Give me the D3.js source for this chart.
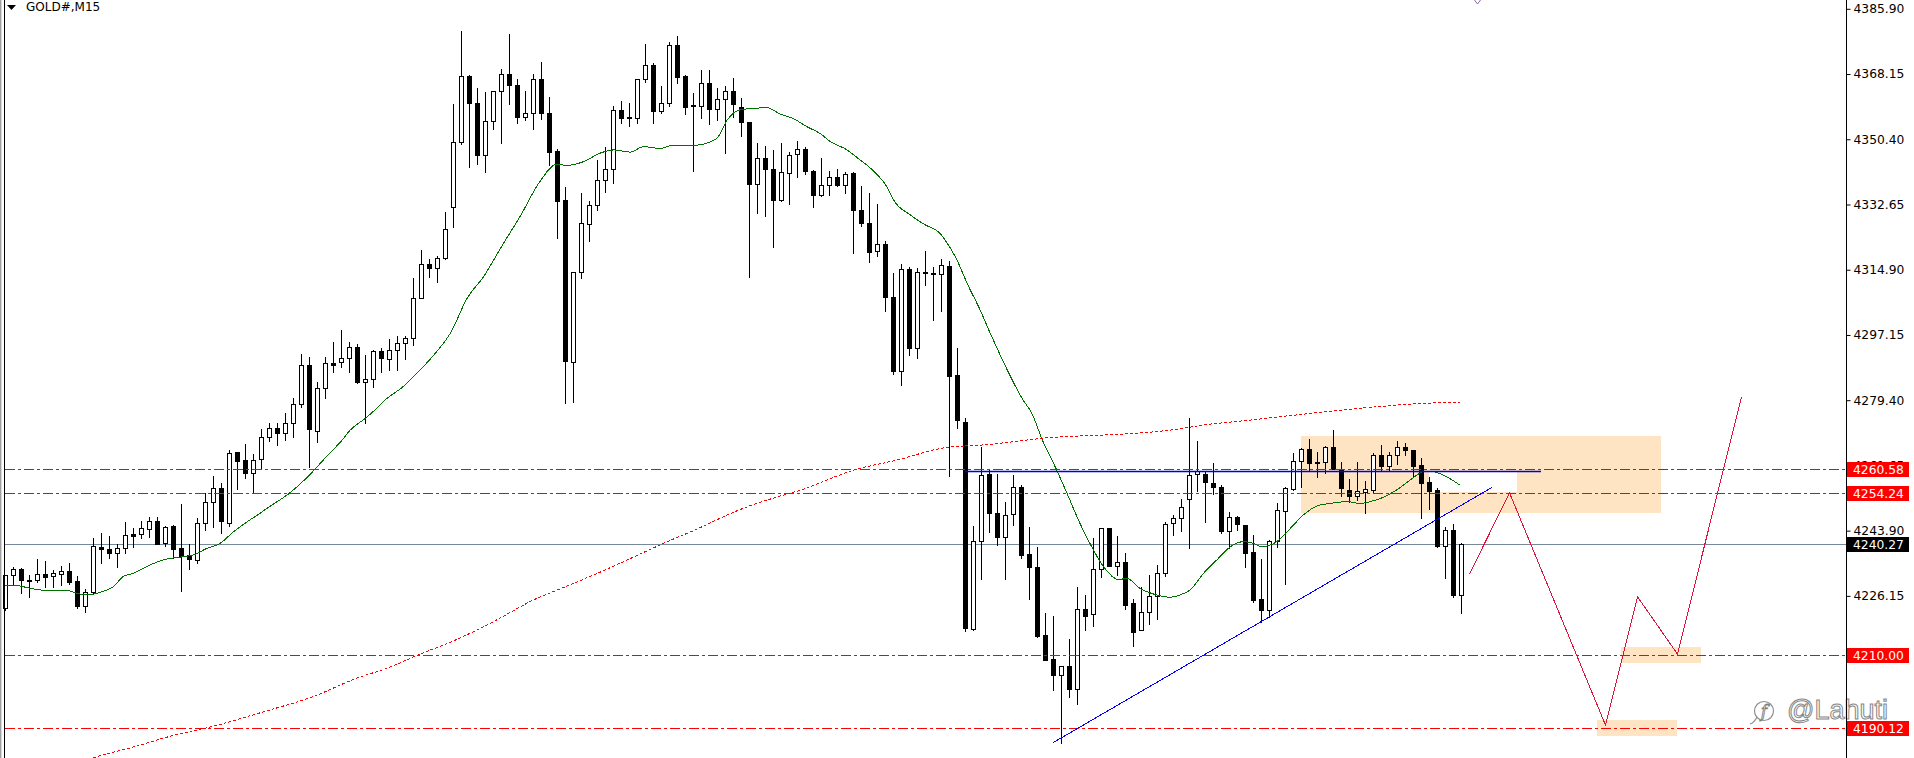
<!DOCTYPE html>
<html><head><meta charset="utf-8">
<script src="https://cdn.jsdelivr.net/npm/d3@7"></script>
<style>html,body{margin:0;padding:0;background:#fff;overflow:hidden}</style>
</head><body><svg id="c" width="1914" height="758"></svg>
<script>
// ---------------- DATA ----------------
const symbolTitle = "GOLD#,M15";
const opens = [4222.8,4231.7,4233.6,4230.6,4230.6,4232.0,4231.5,4232.2,4232.8,4230.2,
4223.4,4227.3,4239.4,4238.9,4237.7,4239.1,4242.9,4242.9,4244.4,4246.5,
4240.6,4245.1,4239.2,4237.2,4235.9,4245.9,4251.6,4255.4,4245.9,4265.2,
4263.0,4259.5,4263.3,4269.3,4271.7,4270.4,4273.3,4278.3,4289.1,4271.1,
4282.6,4289.5,4289.9,4290.8,4293.8,4284.4,4285.3,4292.8,4290.5,4293.0,
4295.0,4296.2,4307.1,4316.4,4315.5,4318.0,4331.9,4349.6,4367.5,4360.4,
4346.2,4355.3,4363.4,4368.1,4365.1,4356.5,4357.5,4366.7,4357.5,4347.2,
4333.9,4289.9,4314.2,4327.3,4332.4,4339.2,4342.2,4358.4,4356.5,4356.3,
4366.7,4370.5,4358.2,4360.4,4376.0,4367.6,4359.7,4359.5,4365.6,4358.5,
4361.3,4363.6,4359.3,4355.0,4338.1,4345.2,4342.2,4333.9,4341.3,4346.5,
4347.7,4341.9,4335.2,4338.0,4340.2,4338.0,4341.1,4331.2,4327.7,4320.1,
4321.8,4307.5,4287.3,4315.1,4293.5,4314.1,4314.0,4313.7,4316.0,4286.3,
4273.4,4217.2,4241.0,4259.3,4248.6,4242.3,4248.3,4255.9,4237.5,4234.1,
4215.5,4208.9,4204.6,4207.1,4200.9,4222.6,4221.3,4233.6,4244.5,4234.4,
4235.5,4224.1,4216.9,4221.7,4226.2,4232.3,4245.9,4247.3,4252.4,4259.3,
4259.2,4256.8,4255.7,4243.9,4247.5,4245.4,4238.0,4225.2,4222.3,4241.0,
4249.3,4255.1,4262.9,4266.1,4262.5,4262.5,4266.6,4260.6,4255.0,4253.4,
4254.5,4255.0,4264.5,4261.6,4264.5,4266.6,4265.8,4261.8,4257.2,4255.0,
4239.8,4244.1,4226.4];
const highs = [4231.9,4234.1,4233.7,4231.8,4236.2,4235.6,4233.3,4234.2,4235.1,4231.6,
4227.9,4241.8,4243.2,4242.4,4240.2,4246.2,4244.7,4246.5,4247.6,4247.6,
4245.1,4245.4,4251.2,4240.4,4247.3,4254.1,4258.8,4256.9,4265.8,4265.4,
4267.5,4264.8,4271.5,4273.3,4273.1,4275.8,4279.9,4291.9,4291.2,4284.4,
4291.1,4295.1,4298.5,4295.2,4294.7,4291.7,4293.1,4293.5,4296.0,4297.0,
4297.0,4312.7,4320.3,4317.8,4318.6,4330.6,4359.9,4379.9,4367.8,4364.3,
4363.3,4363.6,4369.4,4379.0,4366.7,4363.5,4368.2,4371.4,4361.9,4347.7,
4337.3,4314.4,4335.8,4333.6,4344.8,4348.2,4359.4,4360.8,4360.2,4366.9,
4376.3,4371.1,4364.9,4376.9,4378.5,4367.8,4362.9,4369.2,4369.2,4364.3,
4364.9,4367.0,4361.5,4355.2,4349.3,4348.7,4347.5,4349.5,4347.0,4349.8,
4348.2,4342.0,4345.2,4341.9,4342.2,4341.4,4341.6,4337.6,4335.9,4332.7,
4322.8,4314.1,4316.5,4315.7,4315.4,4320.1,4315.7,4317.7,4317.2,4293.5,
4274.6,4245.2,4266.6,4260.4,4259.3,4251.8,4259.0,4256.3,4245.0,4239.5,
4221.4,4220.7,4207.1,4214.4,4228.5,4226.4,4241.8,4244.5,4244.5,4242.4,
4237.9,4225.2,4228.5,4231.8,4234.6,4246.3,4248.2,4252.5,4274.5,4268.3,
4260.1,4262.2,4256.3,4249.1,4247.9,4245.5,4242.7,4236.2,4241.4,4251.3,
4255.7,4264.9,4266.3,4268.8,4265.4,4267.0,4271.3,4262.5,4257.9,4262.7,
4257.5,4264.9,4267.2,4265.2,4268.3,4267.8,4265.9,4263.6,4258.6,4255.4,
4245.0,4245.7,4240.5];
const lows = [4222.3,4229.1,4226.8,4225.9,4230.0,4228.7,4228.5,4229.1,4229.4,4222.8,
4221.9,4227.0,4235.0,4236.4,4234.1,4237.9,4239.5,4242.0,4242.3,4240.2,
4239.7,4236.4,4227.6,4233.4,4235.0,4244.1,4245.0,4243.3,4245.2,4255.2,
4258.3,4254.3,4260.9,4268.3,4267.2,4268.7,4269.5,4277.6,4261.3,4268.0,
4279.9,4287.2,4288.5,4287.2,4284.0,4273.1,4282.9,4287.2,4287.6,4287.6,
4290.6,4294.4,4307.1,4313.0,4311.6,4317.7,4326.6,4349.0,4342.8,4343.6,
4341.4,4353.1,4349.5,4359.9,4354.9,4355.6,4353.3,4356.0,4343.4,4323.6,
4278.5,4279.0,4312.6,4322.8,4331.2,4336.1,4338.4,4354.7,4354.0,4354.7,
4366.0,4354.7,4357.6,4359.5,4365.6,4357.4,4341.9,4356.3,4354.5,4355.6,
4346.6,4356.5,4351.4,4312.8,4330.2,4329.6,4321.1,4333.6,4332.9,4340.1,
4340.9,4332.1,4335.0,4335.2,4337.8,4335.9,4319.4,4326.8,4316.9,4318.7,
4303.6,4286.5,4283.5,4291.8,4291.0,4310.7,4301.1,4303.8,4258.8,4271.7,
4216.6,4216.9,4230.7,4243.6,4240.0,4230.7,4245.4,4236.4,4225.3,4215.0,
4208.7,4200.5,4186.2,4198.7,4196.6,4216.9,4217.9,4231.4,4234.4,4231.8,
4222.6,4212.5,4216.9,4218.5,4219.9,4231.6,4242.7,4243.9,4239.1,4254.8,
4246.3,4253.8,4243.2,4239.1,4244.1,4234.1,4224.4,4219.1,4220.5,4239.4,
4229.3,4255.0,4255.9,4260.2,4258.6,4259.7,4260.7,4253.2,4251.8,4252.2,
4248.6,4254.5,4260.2,4260.4,4262.0,4264.5,4258.8,4247.3,4249.8,4239.5,
4231.1,4225.9,4221.4];
const closes = [4231.7,4233.6,4230.5,4230.3,4232.0,4231.4,4232.3,4232.8,4230.0,4223.3,
4227.3,4239.6,4238.8,4237.7,4239.1,4242.6,4242.5,4244.5,4246.5,4240.4,
4244.8,4239.0,4237.1,4236.1,4245.9,4251.6,4255.4,4246.4,4265.1,4262.9,
4259.5,4263.0,4269.3,4271.7,4270.4,4273.3,4278.3,4289.1,4271.5,4282.6,
4289.4,4289.1,4290.8,4293.8,4284.4,4285.3,4292.8,4290.8,4293.0,4295.0,
4296.2,4307.1,4316.4,4315.5,4318.0,4325.9,4349.6,4367.5,4360.4,4346.2,
4355.3,4363.4,4368.1,4365.3,4356.5,4357.5,4366.7,4357.6,4347.0,4333.7,
4290.2,4314.2,4327.5,4332.4,4339.2,4342.2,4358.4,4356.3,4356.3,4366.7,
4370.5,4358.2,4360.2,4376.0,4367.4,4359.3,4359.4,4365.6,4358.5,4361.3,
4363.6,4359.9,4355.0,4338.1,4345.2,4342.2,4333.9,4341.4,4346.2,4347.7,
4341.7,4335.2,4338.0,4340.1,4337.9,4341.0,4331.2,4327.6,4319.7,4321.8,
4307.5,4287.3,4315.1,4293.5,4314.3,4314.4,4313.8,4316.2,4285.9,4273.9,
4217.3,4241.0,4259.0,4248.8,4242.3,4248.1,4255.7,4237.3,4234.1,4215.1,
4208.7,4204.6,4207.1,4200.9,4222.5,4220.8,4233.6,4244.5,4234.4,4235.5,
4223.8,4216.4,4221.9,4226.2,4232.3,4245.6,4247.3,4250.4,4259.1,4260.0,
4257.1,4255.7,4243.9,4247.5,4245.6,4237.9,4225.0,4222.3,4241.0,4249.5,
4255.4,4262.9,4266.1,4262.2,4262.2,4266.6,4260.7,4255.4,4253.4,4254.7,
4255.1,4264.5,4261.6,4264.5,4266.6,4265.8,4261.6,4257.0,4254.8,4239.7,
4244.1,4226.4,4240.27];

// moving averages: [bar index, price]
const greenMA = [[0,4228.9],[1,4229.1],[3.1,4228.2],[4.7,4227.7],[7.7,4227.6],[9,4226.8],[10.2,4226.4],[11.8,4227.1],[13.5,4228.7],[14.7,4231.4],[16,4232.3],[18.1,4234.6],[20.2,4236.2],[22.2,4236.8],[23.5,4237.3],[25.2,4239.1],[26.8,4240.4],[28.5,4243.6],[30.2,4246.3],[31.8,4248.6],[32.7,4250.0],[35.5,4254.1],[37.8,4258.6],[40.1,4264.0],[42.1,4268.6],[43.1,4271.3],[45,4274.5],[46.4,4277.2],[47.2,4279.0],[49.7,4283.1],[51.4,4286.7],[53.9,4292.6],[55.6,4297.6],[57.7,4307.1],[59.75,4313.0],[62.25,4322.1],[64.3,4329.3],[66.8,4338.9],[68.9,4343.6],[70.2,4343.3],[72.25,4344.3],[74.3,4346.6],[76,4347.5],[78.1,4346.9],[79.75,4348.4],[81.8,4347.9],[83.5,4348.8],[86,4348.7],[88.1,4349.7],[89.1,4351.1],[90.2,4355.6],[91.8,4358.4],[93.5,4358.8],[95.2,4359.0],[96.8,4357.3],[98.5,4356.0],[100.2,4353.8],[101.8,4352.0],[103.1,4349.8],[105.2,4347.5],[106.4,4345.5],[108.9,4340.9],[110.2,4337.4],[111,4333.9],[113.1,4329.8],[114.8,4327.3],[116.8,4324.8],[118.1,4320.8],[118.9,4317.7],[120.2,4311.2],[121.8,4304.1],[123.1,4297.6],[127.2,4279.45],[128.3,4275.8],[129.6,4268.6],[131.4,4260.4],[132.7,4254.0],[134.3,4245.9],[136,4238.6],[137.25,4234.1],[139.1,4230.6],[140.2,4230.9],[141.8,4228.2],[143.3,4226.8],[145.6,4225.8],[146.8,4226.4],[148.1,4227.8],[149.75,4232.3],[151.4,4235.9],[153.1,4239.5],[154.75,4240.9],[156,4240.45],[157.05,4239.5],[158.9,4240.9],[160.6,4244.5],[162.25,4248.2],[163.9,4250.6],[165.6,4251.3],[167.7,4251.8],[169.3,4251.3],[170.6,4251.8],[172.25,4253.0],[173.9,4255.0],[175.6,4257.7],[177.25,4259.95],[178.1,4260.1],[179.75,4259.0],[181.8,4256.3]];
const redMA = [[8,4179.8],[11.1,4182.2],[15.45,4184.7],[21.2,4188.3],[25.8,4190.6],[32.7,4194.9],[38.4,4198.7],[43.6,4203.5],[48.2,4206.9],[51.6,4210.1],[56.2,4214.1],[61.4,4219.6],[65.95,4225.0],[70,4228.65],[74,4232.3],[78.6,4236.8],[82,4240.2],[86.6,4244.5],[91.2,4249.1],[96.8,4253.3],[98.9,4254.6],[106.4,4260.6],[111.4,4263.1],[117.25,4266.4],[123.1,4267.4],[124.75,4267.8],[131,4269.3],[137.25,4269.9],[141.4,4270.4],[146.4,4271.5],[149.75,4272.65],[154.75,4273.8],[163.1,4275.8],[171.4,4277.6],[176.8,4278.5],[181.8,4278.8]];

const levelPrices = [4260.58, 4254.24, 4210.00, 4190.12];
const bidPrice = 4240.27;
const tickValues = [4385.90, 4368.15, 4350.40, 4332.65, 4314.90, 4297.15, 4279.40, 4261.65, 4243.90, 4226.15];
const zones = [[162, 207, 4248.8, 4269.75], [202, 212, 4207.9, 4212.3], [199, 209, 4188.1, 4192.4]];
const zoneOverlap = [178, 189, 4254.3, 4260.0];
const blueLevel = [120, 192, 4260.1];
const trendLine = [[131.0, 4186.2], [185.9, 4255.7]];
const projection = [[183, 4232.1], [188, 4254.2], [200, 4191.0], [204, 4225.9], [209, 4210.3], [217, 4280.35]];
const watermark = "@Lahuti";

// ---------------- DRAW ----------------
const svg = d3.select('#c');
const W = 1914, H = 758, AX = 1846;
const x = d3.scaleLinear().domain([0, 182]).range([5, 1461]);
const y = d3.scaleLinear().domain([4190.12, 4385.90]).range([728.3, 8.8]);
const X = k => Math.round(x(k));
const Y = v => Math.round(y(v));

svg.append('rect').attr('width', W).attr('height', H).attr('fill', '#fff');
const defs = svg.append('defs');
defs.append('clipPath').attr('id', 'plot').append('rect').attr('x', 2).attr('y', 0).attr('width', AX - 2).attr('height', H);
const plot = svg.append('g').attr('clip-path', 'url(#plot)');

// zones
plot.selectAll('rect.zone').data(zones).join('rect').attr('class', 'zone')
  .attr('x', d => X(d[0])).attr('width', d => X(d[1]) - X(d[0]))
  .attr('y', d => Y(d[3])).attr('height', d => Y(d[2]) - Y(d[3]))
  .attr('fill', '#FFE4C4');
plot.append('rect').attr('x', X(zoneOverlap[0])).attr('width', X(zoneOverlap[1]) - X(zoneOverlap[0]))
  .attr('y', Y(zoneOverlap[3])).attr('height', Y(zoneOverlap[2]) - Y(zoneOverlap[3])).attr('fill', '#fff');

// bid line
plot.append('line').attr('x1', 5).attr('x2', AX).attr('y1', Y(bidPrice) + 0.5).attr('y2', Y(bidPrice) + 0.5)
  .attr('stroke', '#778899').attr('stroke-width', 1).attr('shape-rendering', 'crispEdges');

// candles
const idx = d3.range(opens.length);
const cg = plot.append('g').attr('shape-rendering', 'crispEdges');
cg.selectAll('rect.wick').data(idx).join('rect').attr('class', 'wick')
  .attr('x', i => X(i)).attr('width', 1)
  .attr('y', i => Y(highs[i])).attr('height', i => Y(lows[i]) - Y(highs[i]) + 1)
  .attr('fill', '#000');
cg.selectAll('rect.body').data(idx).join('rect').attr('class', 'body')
  .each(function(i) {
    const up = closes[i] >= opens[i];
    const top = Y(Math.max(opens[i], closes[i]));
    const bot = Y(Math.min(opens[i], closes[i]));
    const s = d3.select(this);
    if (up) {
      s.attr('x', X(i) - 1.5).attr('width', 4).attr('y', top + 0.5).attr('height', Math.max(0, bot - top))
       .attr('fill', '#fff').attr('stroke', '#000').attr('stroke-width', 1);
    } else {
      s.attr('x', X(i) - 2).attr('width', 5).attr('y', top).attr('height', Math.max(1, bot - top + 1))
       .attr('fill', '#000');
    }
  });

// moving averages
const maLine = d3.line().x(d => x(d[0]) + 0.5).y(d => y(d[1])).curve(d3.curveMonotoneX);
plot.append('path').attr('d', maLine(redMA)).attr('fill', 'none').attr('stroke', '#ff0000')
  .attr('stroke-width', 1).attr('stroke-dasharray', '3,2').attr('shape-rendering', 'crispEdges');
plot.append('path').attr('d', maLine(greenMA)).attr('fill', 'none').attr('stroke', '#007000')
  .attr('stroke-width', 1).attr('shape-rendering', 'crispEdges');

// horizontal levels
plot.selectAll('line.level').data(levelPrices).join('line').attr('class', 'level')
  .attr('x1', 5).attr('x2', AX).attr('y1', d => Y(d) + 0.5).attr('y2', d => Y(d) + 0.5)
  .attr('stroke', '#ff0000').attr('stroke-width', 1).attr('stroke-dasharray', '10,3,3,3')
  .attr('shape-rendering', 'crispEdges');

// blue objects
plot.append('line').attr('x1', x(blueLevel[0])).attr('x2', x(blueLevel[1]))
  .attr('y1', Y(blueLevel[2]) + 0.5).attr('y2', Y(blueLevel[2]) + 0.5)
  .attr('stroke', '#0000dd').attr('stroke-width', 1.4);
plot.append('line').attr('x1', x(trendLine[0][0])).attr('y1', y(trendLine[0][1]))
  .attr('x2', x(trendLine[1][0])).attr('y2', y(trendLine[1][1]))
  .attr('stroke', '#0000ff').attr('stroke-width', 1).attr('shape-rendering', 'crispEdges');

// projected path
const straight = d3.line().x(d => x(d[0]) + 0.5).y(d => y(d[1]));
plot.append('path').attr('d', straight(projection)).attr('fill', 'none')
  .attr('stroke', '#dc143c').attr('stroke-width', 1).attr('shape-rendering', 'crispEdges');

// small marker at top
svg.append('path').attr('d', 'M1474.5,0 L1477.5,4 L1480.5,0').attr('fill', 'none').attr('stroke', '#8a6a9a').attr('stroke-width', 1);

// left border
svg.append('line').attr('x1', 0.5).attr('x2', 0.5).attr('y1', 0).attr('y2', H).attr('stroke', '#a0a0a0');
svg.append('line').attr('x1', 1.5).attr('x2', 1.5).attr('y1', 0).attr('y2', H).attr('stroke', '#d8d8d8');
svg.append('line').attr('x1', 4.5).attr('x2', 4.5).attr('y1', 0).attr('y2', H).attr('stroke', '#000');

// watermark
const wm = svg.append('g');
wm.append('circle').attr('cx', 1764).attr('cy', 711).attr('r', 9.5).attr('fill', '#fff').attr('fill-opacity', 0.7)
  .attr('stroke', '#8f8f8f').attr('stroke-width', 1.2);
wm.append('path').attr('d', 'M1757,717 q-3,6 -7,7').attr('fill', 'none').attr('stroke', '#8f8f8f').attr('stroke-width', 1.2);
wm.append('text').attr('x', 1764).attr('y', 717).attr('text-anchor', 'middle')
  .attr('font-family', 'DejaVu Serif').attr('font-style', 'italic').attr('font-size', 17)
  .attr('fill', '#fff').attr('stroke', '#7f7f7f').attr('stroke-width', 0.9).text('f');
wm.append('text').attr('x', 1787).attr('y', 719).attr('font-family', 'Liberation Sans').attr('font-size', 27)
  .attr('fill', '#fdfdfd').attr('stroke', '#878787').attr('stroke-width', 1).text(watermark);

// price axis
svg.append('line').attr('x1', AX + 0.5).attr('x2', AX + 0.5).attr('y1', 0).attr('y2', H).attr('stroke', '#000');
const axis = d3.axisRight(y).tickValues(tickValues).tickFormat(d3.format('.2f')).tickSize(4).tickPadding(3);
const ag = svg.append('g').attr('transform', `translate(${AX + 0.5},0)`).call(axis);
ag.select('.domain').remove();
ag.selectAll('.tick line').attr('stroke', '#000');
ag.selectAll('.tick text').attr('font-family', 'DejaVu Sans').attr('font-size', 12.3).attr('fill', '#000');

// level labels
const labels = levelPrices.map(p => ({p, bg: '#ff0000'})).concat([{p: bidPrice, bg: '#000'}]);
const lg = svg.selectAll('g.lab').data(labels).join('g').attr('class', 'lab');
lg.append('rect').attr('x', AX + 1).attr('width', 62).attr('y', d => Y(d.p) - 7).attr('height', 15).attr('fill', d => d.bg);
lg.append('text').attr('x', AX + 7).attr('y', d => Y(d.p) + 0.5).attr('dy', '0.36em')
  .attr('font-family', 'DejaVu Sans').attr('font-size', 12.3).attr('fill', '#fff').text(d => d.p.toFixed(2));

// title
svg.append('path').attr('d', 'M7,5 L16,5 L11.5,10 Z').attr('fill', '#000');
svg.append('text').attr('x', 26).attr('y', 7).attr('dy', '0.36em').attr('font-family', 'DejaVu Sans')
  .attr('font-size', 12).attr('fill', '#000').text(symbolTitle);
</script>
</body></html>
